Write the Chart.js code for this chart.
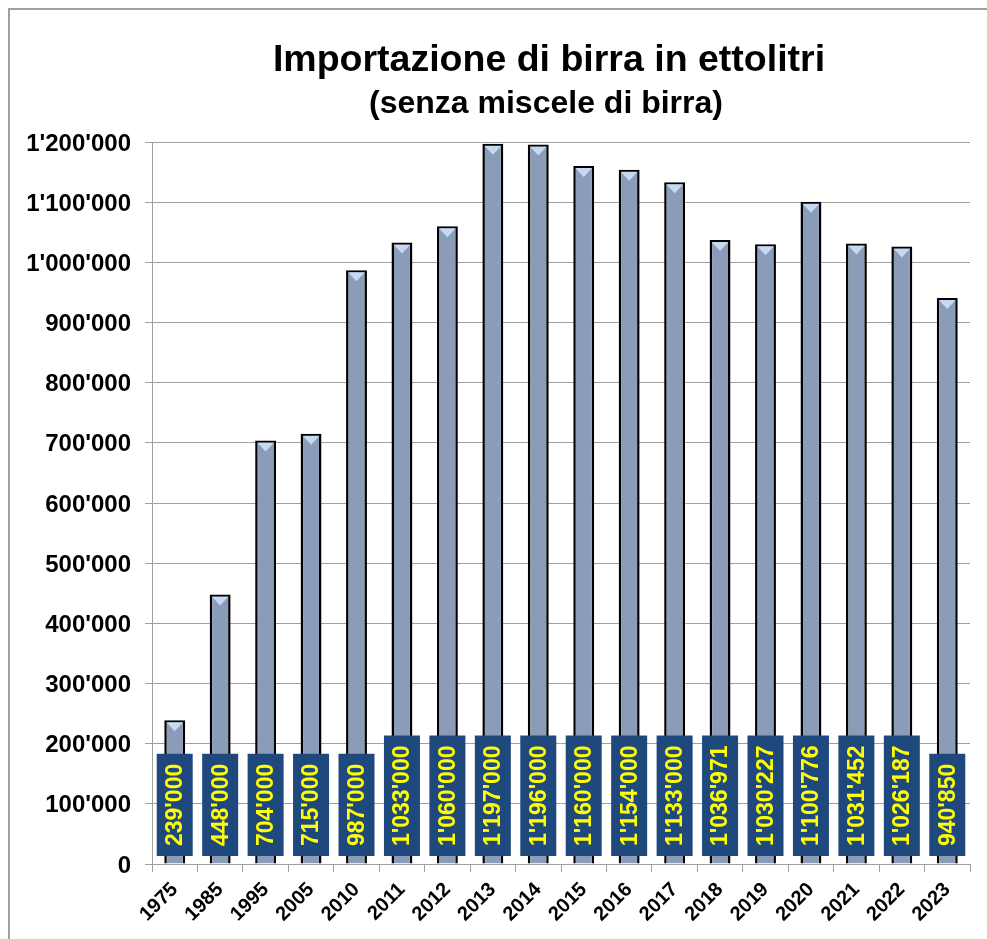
<!DOCTYPE html>
<html lang="it">
<head>
  <meta charset="UTF-8">
  <title>Importazione di birra in ettolitri</title>
  <script src="https://cdn.jsdelivr.net/npm/chart.js"></script>
  <style>
    html, body { margin: 0; padding: 0; background: #fff; }
    #wrap { width: 987px; height: 939px; position: relative; }
  </style>
</head>
<body>
  <div id="wrap"><canvas id="beerChart" width="987" height="939"></canvas></div>

  <script>
    const years = ['1975', '1985', '1995', '2005', '2010', '2011', '2012', '2013', '2014',
                   '2015', '2016', '2017', '2018', '2019', '2020', '2021', '2022', '2023'];
    const hectoliters = [239000, 448000, 704000, 715000, 987000, 1033000, 1060000, 1197000, 1196000,
                         1160000, 1154000, 1133000, 1036971, 1030227, 1100776, 1031452, 1026187, 940850];
    const titleText = 'Importazione di birra in ettolitri';
    const subtitleText = '(senza miscele di birra)';

    const FONT = "'Liberation Sans', Arial, sans-serif";

    // 1234567 -> 1'234'567
    function swissFormat(v) {
      return String(Math.round(v)).replace(/\B(?=(\d{3})+(?!\d))/g, "'");
    }

    function barGradient(ctx) {
      const el = ctx.element;
      if (!el || el.x === undefined) return '#8a9cb8';
      const half = el.width / 2;
      const g = ctx.chart.ctx.createLinearGradient(el.x - half, 0, el.x + half, 0);
      g.addColorStop(0, '#7a8dab');
      g.addColorStop(0.3, '#9cafcc');
      g.addColorStop(0.5, '#91a4c1');
      g.addColorStop(0.53, '#7a8da9');
      g.addColorStop(1, '#5f7192');
      return g;
    }

    // frame, title, bevel triangles and value boxes
    const decorations = {
      id: 'decorations',
      beforeDraw(chart) {
        const c = chart.ctx;
        c.save();
        c.fillStyle = '#fff';
        c.fillRect(0, 0, chart.width, chart.height);
        c.strokeStyle = '#a0a0a0';
        c.lineWidth = 2;
        c.beginPath();
        c.moveTo(9, chart.height);
        c.lineTo(9, 9);
        c.lineTo(chart.width, 9);
        c.stroke();
        c.fillStyle = '#000';
        c.textAlign = 'center';
        c.textBaseline = 'alphabetic';
        c.font = 'bold 37.5px ' + FONT;
        c.fillText(titleText, 549, 71);
        c.font = 'bold 32px ' + FONT;
        c.fillText(subtitleText, 546, 113);
        c.restore();
      },
      afterDatasetsDraw(chart) {
        const c = chart.ctx;
        const meta = chart.getDatasetMeta(0);
        const base = chart.scales.y.getPixelForValue(0);
        c.save();
        meta.data.forEach((bar, i) => {
          const half = bar.width / 2 - 2;
          c.fillStyle = '#c6d9f1';
          c.beginPath();
          c.moveTo(bar.x - half, bar.y + 2);
          c.lineTo(bar.x + half, bar.y + 2);
          c.lineTo(bar.x, bar.y + 11);
          c.closePath();
          c.fill();

          const label = swissFormat(hectoliters[i]);
          c.font = 'bold 23px ' + FONT;
          const tw = c.measureText(label).width;
          const boxH = tw + 20;
          const boxW = 36;
          const bottom = base - 8;
          c.fillStyle = '#1f497d';
          c.fillRect(bar.x - boxW / 2, bottom - boxH, boxW, boxH);
          c.translate(bar.x, bottom - boxH / 2);
          c.rotate(-Math.PI / 2);
          c.fillStyle = '#ffff00';
          c.textAlign = 'center';
          c.textBaseline = 'middle';
          c.fillText(label, 0, 1);
          c.setTransform(1, 0, 0, 1, 0, 0);
        });
        c.restore();
      }
    };

    new Chart(document.getElementById('beerChart'), {
      type: 'bar',
      data: {
        labels: years,
        datasets: [{
          data: hectoliters,
          backgroundColor: barGradient,
          borderColor: '#000',
          borderWidth: 2.5,
          categoryPercentage: 1,
          barPercentage: 0.46
        }]
      },
      options: {
        responsive: false,
        animation: false,
        layout: { padding: { top: 142, right: 17, bottom: 0, left: 0 } },
        plugins: {
          legend: { display: false },
          tooltip: { enabled: false }
        },
        scales: {
          x: {
            grid: { display: true, drawOnChartArea: false, offset: true, color: '#a0a0a0', tickLength: 8 },
            border: { color: '#a0a0a0', width: 1 },
            ticks: {
              color: '#000',
              font: { family: FONT, size: 20, weight: 'bold' },
              minRotation: 45,
              maxRotation: 45,
              padding: 6,
              autoSkip: false
            },
            afterFit(scale) { scale.height = 939 - 864; }
          },
          y: {
            min: 0,
            max: 1200000,
            grid: { color: '#a0a0a0', tickLength: 7 },
            border: { color: '#a0a0a0', width: 1 },
            ticks: {
              stepSize: 100000,
              color: '#000',
              padding: 14,
              labelOffset: 2,
              font: { family: FONT, size: 24, weight: 'bold' },
              callback: v => swissFormat(v)
            },
            afterFit(scale) { scale.width = 152; }
          }
        }
      },
      plugins: [decorations]
    });
  </script>
</body>
</html>
